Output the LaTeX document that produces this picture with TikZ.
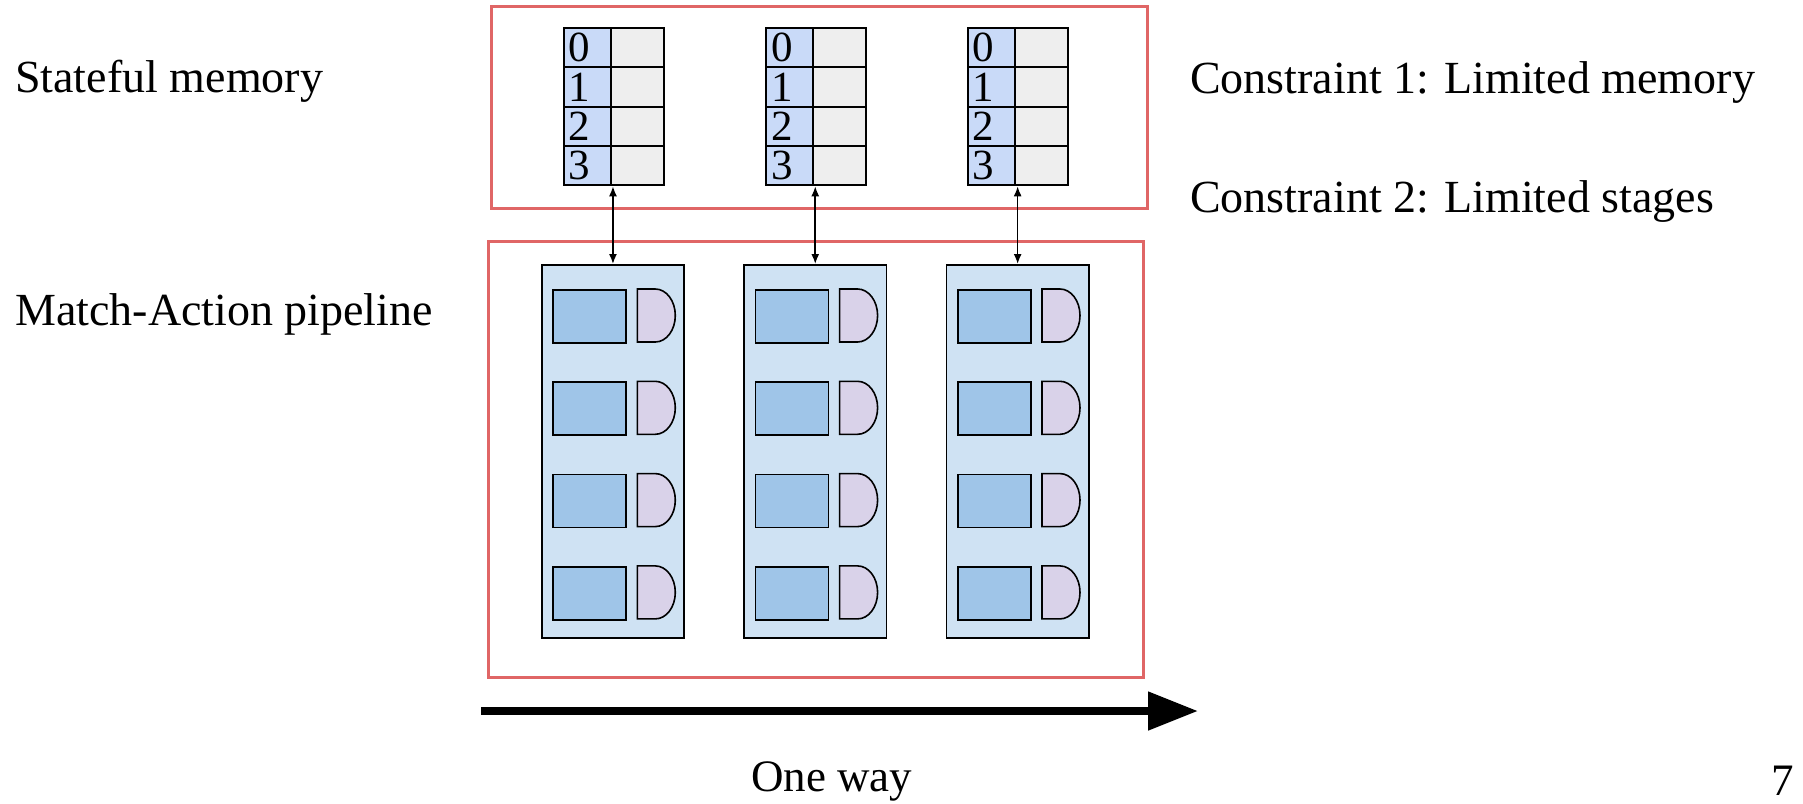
\documentclass[tikz,border=0pt]{standalone}
\usepackage{fontspec}
\setmainfont{Liberation Serif}
\usetikzlibrary{arrows.meta}

\definecolor{zonered}{HTML}{E06666}
\definecolor{keyblue}{HTML}{C9DAF8}
\definecolor{valgray}{HTML}{EEEEEE}
\definecolor{stagefill}{HTML}{CFE2F3}
\definecolor{matchfill}{HTML}{9FC5E8}
\definecolor{actfill}{HTML}{D9D2E9}

\tikzset{
  label text/.style={inner sep=0pt, font=\fontsize{46}{54}\selectfont},
  axis text/.style={inner sep=0pt, font=\fontsize{45}{54}\selectfont},
  digit/.style={inner sep=0pt, font=\fontsize{43}{50}\selectfont},
  zone/.style={draw=zonered, line width=3.2pt, fill=none, inner sep=0pt},
  keycell/.style={draw=black, fill=keyblue, line width=2pt, inner sep=0pt,
    minimum width=47.3pt, minimum height=39.4pt},
  valcell/.style={draw=black, fill=valgray, line width=2pt, inner sep=0pt,
    minimum width=52.7pt, minimum height=39.4pt},
  stagebox/.style={draw=black, fill=stagefill, line width=1.6pt, inner sep=0pt,
    minimum width=142.3pt, minimum height=373pt},
  matchbox/.style={draw=black, fill=matchfill, line width=1.6pt, inner sep=0pt,
    minimum width=73pt, minimum height=53pt},
  actshape/.style={draw=black, fill=actfill, line width=1.6pt},
  memarrow/.style={draw=black, line width=1.6pt,
    {Latex[length=10pt,width=8pt]}-{Latex[length=10pt,width=8pt]}},
  flow/.style={draw=black, line width=8pt,
    -{Triangle[length=50pt,width=37pt]}},
}

\begin{document}
\begin{tikzpicture}[x=1pt, y=-1pt]
  \useasboundingbox (0,0) rectangle (1803,803);
  \fill[white] (0,0) rectangle (1803,803);

  % side labels
  \node[label text, anchor=base west] (lblmem) at (15,92) {Stateful memory};
  \node[label text, anchor=base west] (lblpipe) at (15,325) {Match-Action pipeline};
  \node[label text, anchor=base west] (con1) at (1190,93) {Constraint 1: Limited memory};
  \node[label text, anchor=base west] (con2) at (1190,212.5) {Constraint 2: Limited stages};

  % the two zones
  \node[zone, anchor=north west, minimum width=656pt, minimum height=202pt]
    (memzone) at (490,5) {};
  \node[zone, anchor=north west, minimum width=655pt, minimum height=436pt]
    (pipezone) at (487,240) {};

  % register tables (index column + value column)
  \foreach \i/\x in {1/562.7, 2/765, 3/966.7} {
    \foreach \r in {0,1,2,3} {
      \node[keycell, anchor=north west] (k\i-\r) at (\x, {26.7+\r*39.4}) {};
      \node[valcell, anchor=north west] (v\i-\r) at ({\x+47.3}, {26.7+\r*39.4}) {};
      \node[digit, anchor=base west] (d\i-\r) at ({\x+6}, {61.7+\r*39.4}) {\r};
    }
  }

  % pipeline stages: match tables and action units
  \foreach \i/\x in {1/541, 2/743.3, 3/945.7} {
    \node[stagebox, anchor=north west] (stage\i) at (\x,264) {};
    \foreach \r in {0,1,2,3} {
      \node[matchbox, anchor=north west] (m\i-\r) at ({\x+11.3}, {289+\r*92.3}) {};
      \draw[actshape] ({\x+96.3}, {289+\r*92.3}) -- ++(18,0)
        arc[start angle=-90, end angle=90, x radius=20, y radius=26.5]
        -- ++(-18,0) -- cycle;
    }
    % memory access between stage and its register table
    \draw[memarrow] (stage\i.north) -- (stage\i.north |- k\i-3.south);
  }

  % direction of processing
  \coordinate (flowS) at (481,711);
  \coordinate (flowE) at (1198,711);
  \draw[flow] (flowS) -- (flowE);
  \node[axis text, anchor=base west] (oneway) at (751,791.7) {One way};

  % page number
  \node[axis text, anchor=base west] (pageno) at (1771,795) {7};
\end{tikzpicture}
\end{document}
